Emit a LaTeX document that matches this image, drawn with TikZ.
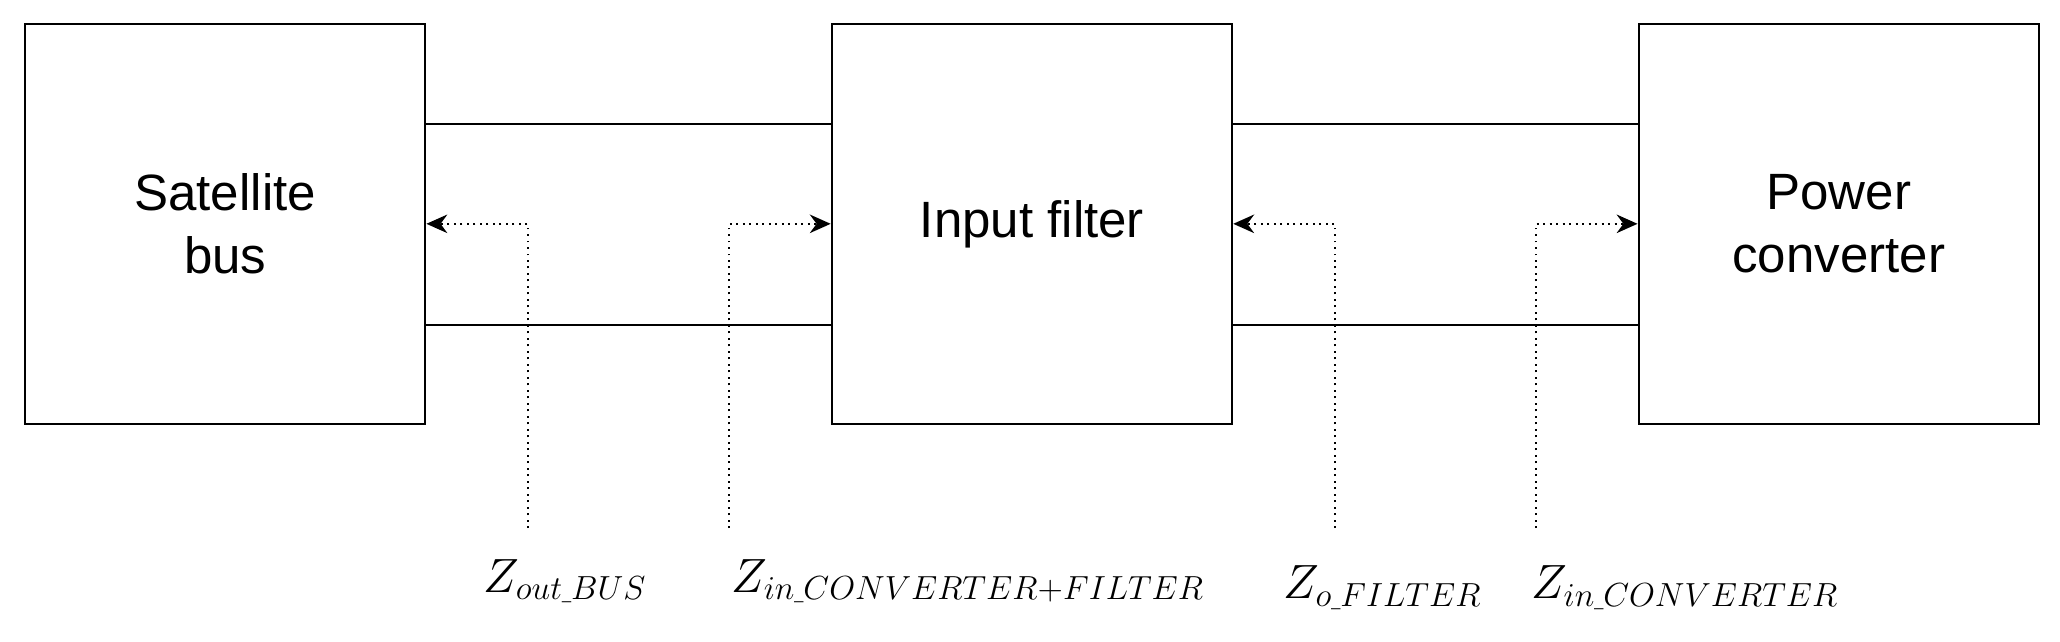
\documentclass[tikz,border=0pt]{standalone}
\usepackage{fontspec}
\setmainfont{Liberation Sans}
\usetikzlibrary{arrows.meta}
\newcommand{\us}{\hbox{\scriptsize\_}}
\begin{document}
\begin{tikzpicture}[x=0.02cm,y=-0.02cm,
  blk/.style={draw,line width=1.1pt,minimum width=6.06cm,minimum height=6.06cm,inner sep=0pt,align=center,font=\fontsize{22}{27}\selectfont},
  wire/.style={line width=1.1pt},
  meas/.style={dotted,line width=0.8pt,-{Stealth[length=9pt,width=8pt]}},
  lbl/.style={font=\fontsize{21}{25}\selectfont}]
\useasboundingbox (0,0) rectangle (1560,486);
\node[blk] (sat) at (170.5,169.5) {Satellite\\bus};
\node[blk] (fil) at (781.5,169.5) {Input filter};
\node[blk] (pow) at (1392.5,169.5) {Power\\converter};
\draw[wire] (sat.east |- 0,94) -- (fil.west |- 0,94) (sat.east |- 0,246) -- (fil.west |- 0,246);
\draw[wire] (fil.east |- 0,94) -- (pow.west |- 0,94) (fil.east |- 0,246) -- (pow.west |- 0,246);
\coordinate (a1) at (400,400); \coordinate (a2) at (552,400);
\coordinate (a3) at (1011,400); \coordinate (a4) at (1163,400);
\draw[meas] (a1) |- (sat.east);
\draw[meas] (a2) |- (fil.west);
\draw[meas] (a3) |- (fil.east);
\draw[meas] (a4) |- (pow.west);
\node[lbl] (l1) at (428,440) {$Z_{out\us BUS}$};
\node[lbl] (l2) at (733,440) {$Z_{in\us CONVERTER+FILTER}$};
\node[lbl] (l3) at (1047,445) {$Z_{o\us FILTER}$};
\node[lbl] (l4) at (1276,445) {$Z_{in\us CONVERTER}$};
\end{tikzpicture}
\end{document}
